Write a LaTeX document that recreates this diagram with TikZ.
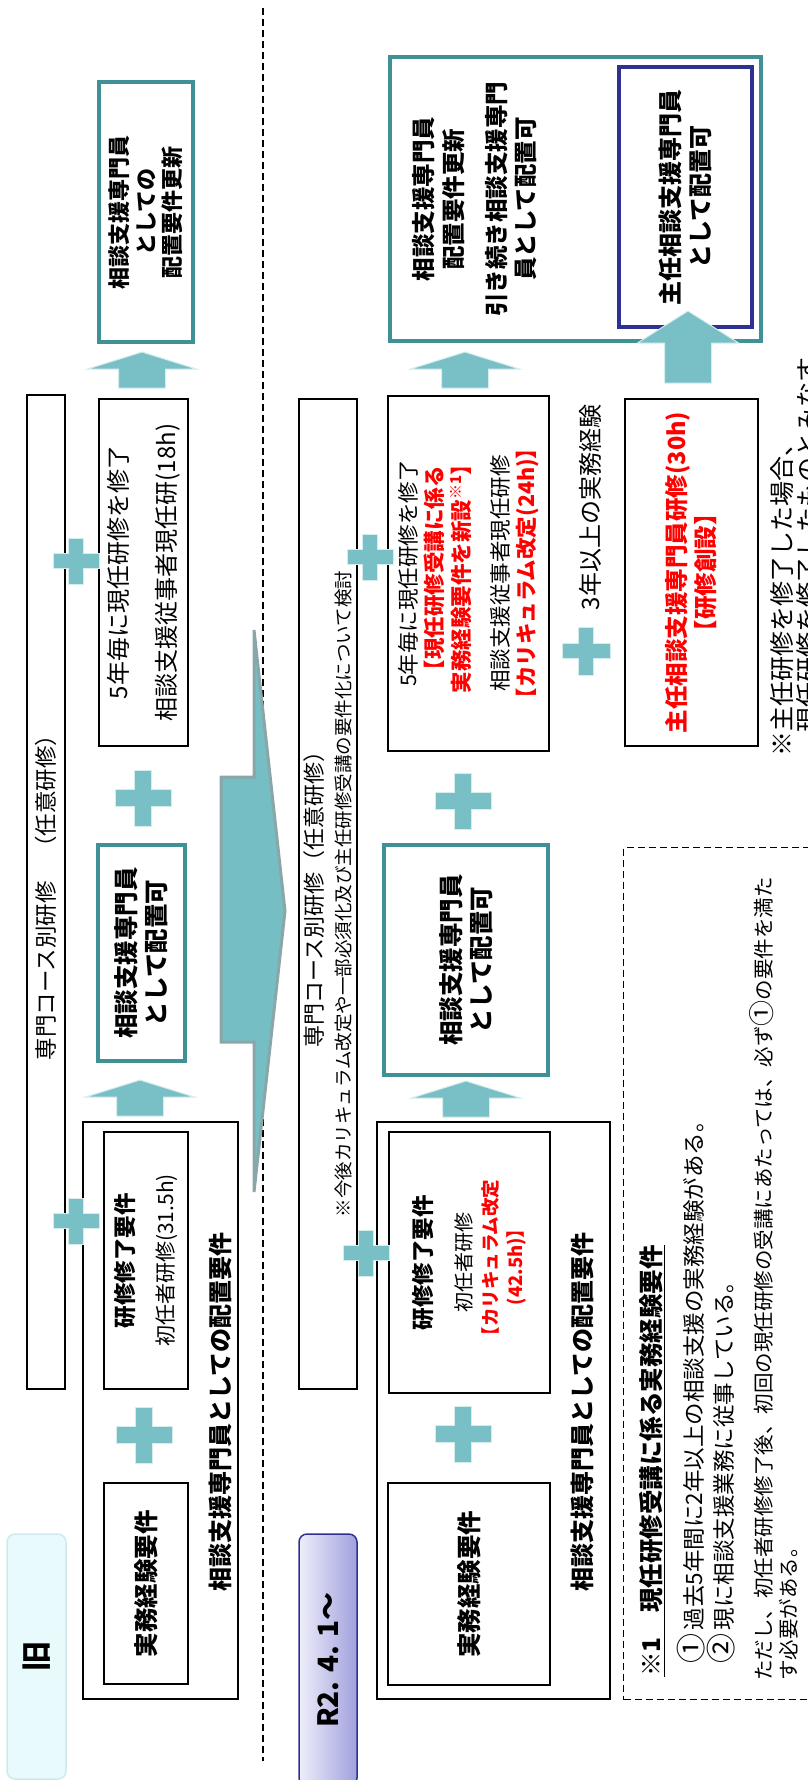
\documentclass[tikz,border=0pt]{standalone}
\usepackage{fontspec}
\setmainfont{Noto Sans CJK JP}
\usepackage{tikz}
\definecolor{boxteal}{RGB}{64,145,150}
\definecolor{pluscol}{RGB}{120,192,198}
\definecolor{plusedge}{RGB}{214,237,239}
\definecolor{bigarr}{RGB}{117,191,196}
\definecolor{bigarredge}{RGB}{138,166,168}
\definecolor{navy}{RGB}{46,49,146}
\definecolor{tagfill}{RGB}{232,250,252}
\definecolor{tagedge}{RGB}{208,233,236}
\definecolor{lav}{RGB}{238,238,250}
\definecolor{lavdark}{RGB}{160,160,222}
\newcommand{\fsz}[2]{\fontsize{#1}{#2}\selectfont}

\begin{document}
\begin{tikzpicture}[
            x = 1pt, y = -1pt, % picture units, y downwards
            rot/.style = {rotate = 90, align = center, inner sep = 0pt},
            plainbox/.style = {rot, draw = black, line width = 2pt, fill = white},
            tealbox/.style = {rot, draw = boxteal, line width = 4pt, fill = white},
            navybox/.style = {rot, draw = navy, line width = 4pt, fill = white},
            tagbox/.style = {rounded corners = 8pt, line width = 1.5pt, inner sep = 0pt},
            divider/.style = {dash pattern = on 7pt off 4pt, line width = 1.3pt},
            bigarrow/.style = {fill = bigarr, draw = bigarredge, line width = 3pt, line join = miter},
            pics/plusmark/.style = {code = {
                \fill[pluscol, draw = plusedge, line width = 1pt]
                    (-0.16*#1,-0.5*#1) -- (0.16*#1,-0.5*#1) -- (0.16*#1,-0.16*#1) -- (0.5*#1,-0.16*#1)
                    -- (0.5*#1,0.16*#1) -- (0.16*#1,0.16*#1) -- (0.16*#1,0.5*#1) -- (-0.16*#1,0.5*#1)
                    -- (-0.16*#1,0.16*#1) -- (-0.5*#1,0.16*#1) -- (-0.5*#1,-0.16*#1) -- (-0.16*#1,-0.16*#1) -- cycle;
            }},
            pics/uparr/.style = {code = {
                \fill[pluscol, draw = plusedge, line width = 1pt]
                    (-23.5,0) -- (-23.5,-19) -- (-54.5,-19) -- (0,-36) -- (54.5,-19) -- (23.5,-19) -- (23.5,0) -- cycle;
            }},
            pics/bigup/.style = {code = {
                \fill[pluscol, draw = plusedge, line width = 1pt]
                    (-23.5,0) -- (-23.5,-40) -- (-50.5,-40) -- (0,-72) -- (50.5,-40) -- (23.5,-40) -- (23.5,0) -- cycle;
            }}
            ]

        \useasboundingbox (0,0) rectangle (808,1780);

        % divider between old and new
        \coordinate (D1) at (263,8);
        \coordinate (D2) at (263,1761);
        \draw[divider] (D1) -- (D2);

        % transition arrow
        \draw[bigarrow] (221,777) -- (254,777) -- (254,630) -- (285,911) -- (254,1192) -- (254,1042) -- (221,1042) -- cycle;

        % old scheme
        \node[plainbox, minimum width = 994pt, minimum height = 38pt, font = \fsz{22.5}{26}] (SP) at (46,892) {専門コース別研修　（任意研修）};
        \node[tealbox, minimum width = 260pt, minimum height = 94pt, font = \fsz{22}{26.5}\bfseries] (UP) at (146,212) {相談支援専門員\\としての\\配置要件更新};
        \node[plainbox, minimum width = 347pt, minimum height = 89pt, font = \fsz{24}{28}] (GN) at (143.5,572.5) {5年毎に現任研修を修了\\[20pt]相談支援従事者現任研(18h)};
        \node[tealbox, minimum width = 216pt, minimum height = 87pt, font = \fsz{24.5}{30}\bfseries] (KA) at (141.5,953) {相談支援専門員\\として配置可};

        \node[plainbox, minimum width = 577pt, minimum height = 155pt] (RQ) at (160.5,1410.5) {};
        \node[rot, font = \fsz{24}{28}\bfseries] (RQL) at (220,1412) {相談支援専門員としての配置要件};
        \node[plainbox, minimum width = 257pt, minimum height = 84pt, font = \fsz{21}{26}] (KS) at (146,1260.5) {{\bfseries\fsz{22.5}{26}研修修了要件}\\[14pt]初任者研修(31.5h)};
        \node[plainbox, minimum width = 201pt, minimum height = 84pt, font = \fsz{24.5}{30}\bfseries] (JM) at (146,1583.5) {実務経験要件};

        \node[tagbox, fill = tagfill, draw = tagedge, minimum width = 59pt, minimum height = 245pt] (TAG) at (36.5,1656.5) {};
        \node[rot, font = \fsz{30}{36}\bfseries] (TAGL) at (TAG) {旧};

        % new scheme
        \node[plainbox, minimum width = 990pt, minimum height = 58pt, font = \fsz{22}{28}] (SP2) at (328,894) {専門コース別研修（任意研修）\\{\fsz{18.5}{28}※今後カリキュラム改定や一部必須化及び主任研修受講の要件化について検討}};
        \node[tealbox, minimum width = 284pt, minimum height = 371pt] (UP2) at (575.5,199) {};
        \node[rot, font = \fsz{23.5}{29.5}\bfseries] (UPL2) at (475,199) {相談支援専門員\\配置要件更新\\[13.5pt]引き続き相談支援専門\\員として配置可};
        \node[navybox, minimum width = 260pt, minimum height = 133pt, font = \fsz{24}{30}\bfseries] (CH) at (685.5,197) {主任相談支援専門員\\として配置可};

        \node[plainbox, minimum width = 355pt, minimum height = 161pt, font = \fsz{21.5}{26.5}] (GN2) at (468.5,573.5) {5年毎に現任研修を修了\\{\color{red}\bfseries 【現任研修受講に係る}\\{\color{red}\bfseries 実務経験要件を新設\textsuperscript{※1}】}\\[12.5pt]相談支援従事者現任研修\\{\color{red}\bfseries 【カリキュラム改定(24h)】}};
        \node[rot, font = \fsz{24}{28}] (EXP) at (590,507.5) {3年以上の実務経験};
        \node[plainbox, minimum width = 347pt, minimum height = 133pt, font = \fsz{23.5}{29}\bfseries, text = red] (CHT) at (691.5,572.5) {主任相談支援専門員研修(30h)\\【研修創設】};

        \node[tealbox, minimum width = 230pt, minimum height = 164pt, font = \fsz{24.5}{29.5}\bfseries] (KA2) at (466,960) {相談支援専門員\\として配置可};

        \node[plainbox, minimum width = 577pt, minimum height = 233pt] (RQ2) at (493.5,1410.5) {};
        \node[rot, font = \fsz{24}{28}\bfseries] (RQL2) at (582,1412) {相談支援専門員としての配置要件};
        \node[plainbox, minimum width = 261pt, minimum height = 161pt, font = \fsz{20}{25.5}] (KS2) at (469.5,1262.5) {{\bfseries\fsz{22.5}{25.5}研修修了要件}\\[14.5pt]初任者研修\\{\color{red}\bfseries\fsz{18.5}{25.5}【カリキュラム改定}\\{\color{red}\bfseries\fsz{18.5}{25.5}(42.5h)】}};
        \node[plainbox, minimum width = 202pt, minimum height = 162pt, font = \fsz{24.5}{30}\bfseries] (JM2) at (469,1584) {実務経験要件};

        \node[tagbox, draw = navy, left color = lav, right color = lavdark, minimum width = 58pt, minimum height = 252pt] (TAG2) at (328,1660) {};
        \node[rot, font = \fsz{28}{34}\bfseries] (TAGL2) at (TAG2) {R2. 4. 1〜};

        % plus marks
        \pic at (76,561) {plusmark=46};
        \pic at (143,798) {plusmark=56};
        \pic at (76,1221) {plusmark=46};
        \pic at (144,1435) {plusmark=56};
        \pic at (370,557) {plusmark=46};
        \pic at (463,801) {plusmark=56};
        \pic at (366,1253) {plusmark=46};
        \pic at (463,1434) {plusmark=56};
        \pic at (586,651) {plusmark=48};

        % block arrows
        \pic at (142,388) {uparr};
        \pic at (140,1116) {uparr};
        \pic at (465,388) {uparr};
        \pic at (466,1117) {uparr};
        \pic at (688,383) {bigup};

        % notes
        \node[draw = black, dash pattern = on 7pt off 4pt, line width = 1.3pt, inner sep = 0pt, anchor = north west, minimum width = 217pt, minimum height = 852pt] (NOTE) at (623,847) {};
        \node[rot, anchor = west, font = \fsz{24.5}{28}\bfseries] (N1) at (652,1677) {\underline{※1　現任研修受講に係る実務経験要件}};
        \node[rot, anchor = west, font = \fsz{22.5}{26}] (N2) at (691,1664) {{\fsz{30}{26}①}\,過去5年間に2年以上の相談支援の実務経験がある。};
        \node[rot, anchor = west, font = \fsz{22.5}{26}] (N3) at (721,1664) {{\fsz{30}{26}②}\,現に相談支援業務に従事している。};
        \node[rot, anchor = west, font = \fsz{20.5}{26}] (N4) at (762,1681) {ただし、初任者研修修了後、初回の現任研修の受講にあたっては、必ず{\fsz{26}{26}①}の要件を満た};
        \node[rot, anchor = west, font = \fsz{20.5}{26}] (N5) at (789,1681) {す必要がある。};

        \node[rot, anchor = west, font = \fsz{25}{30}] (M1) at (782,757) {※主任研修を修了した場合、};
        \node[rot, anchor = west, font = \fsz{25}{30}] (M2) at (808,733) {現任研修を修了したものとみなす。};

  \end{tikzpicture}
\end{document}
